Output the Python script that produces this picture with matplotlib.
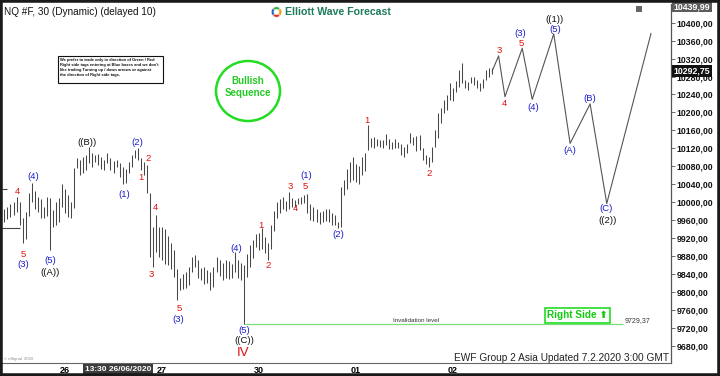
import matplotlib
matplotlib.use("Agg")
import matplotlib.pyplot as plt
from matplotlib.patches import Rectangle, Ellipse
from matplotlib.ticker import FuncFormatter

plt.rcParams["font.family"] = ["Liberation Sans", "DejaVu Sans"]

# 30 min bars, NQ #F (32 bars per day slot)
highs = [
    9985, 9990, 9995, 10000, 10012, 10000, 9965, 9978, 10020, 10043,
    10025, 10011, 10008, 9990, 10011, 10010, 9983, 10000, 10010, 10040,
    10030, 10016, 10000, 10076, 10098, 10095, 10100, 10105, 10123, 10110,
    10105, 10108, 10100, 10095, 10110, 10098, 10092, 10095, 10087, 10078,
    10075, 10089, 10105, 10116, 10121, 10098, 10089, 10083, 10020, 9944,
    9971, 9944, 9945, 9940, 9925, 9909, 9893, 9850, 9831, 9840,
    9845, 9855, 9877, 9882, 9870, 9853, 9855, 9849, 9844, 9855,
    9877, 9870, 9865, 9870, 9868, 9862, 9888, 9870, 9864, 9860,
    9885, 9905, 9915, 9928, 9932, 9942, 9922, 9909, 9950, 9980,
    10000, 10008, 10012, 10003, 10022, 10010, 10005, 10010, 10012, 10015,
    10018, 9995, 9990, 9985, 9978, 9980, 9985, 9985, 9975, 9972,
    9956, 10034, 10050, 10075, 10090, 10100, 10085, 10080, 10100, 10110,
    10172, 10143, 10145, 10140, 10139, 10138, 10152, 10140, 10135, 10140,
    10134, 10130, 10123, 10130, 10155, 10145, 10148, 10150, 10120, 10105,
    10100, 10123, 10160, 10198, 10209, 10228, 10238, 10266, 10255, 10270,
    10295, 10310, 10272, 10268, 10279, 10278, 10272, 10265, 10275, 10295,
    10298, 10300,
]
lows = [
    9955, 9962, 9968, 9972, 9978, 9950, 9909, 9918, 9970, 10000,
    9985, 9978, 9965, 9965, 9970, 9893, 9945, 9949, 9955, 9989,
    9975, 9967, 9965, 9987, 10076, 10060, 10065, 10072, 10088, 10078,
    10090, 10082, 10075, 10072, 10087, 10072, 10065, 10078, 10056, 10040,
    10043, 10065, 10078, 10098, 10095, 10072, 10060, 10020, 9877, 9855,
    9889, 9877, 9870, 9862, 9860, 9850, 9833, 9782, 9804, 9806,
    9808, 9815, 9844, 9855, 9830, 9826, 9818, 9820, 9804, 9812,
    9844, 9835, 9826, 9830, 9828, 9830, 9844, 9832, 9826, 9729.37,
    9833, 9855, 9876, 9900, 9893, 9896, 9886, 9871, 9895, 9935,
    9965, 9975, 9985, 9980, 9985, 9990, 9990, 9995, 9997, 9998,
    9975, 9960, 9958, 9955, 9952, 9955, 9958, 9955, 9948, 9949,
    9942, 9945, 10015, 10030, 10045, 10050, 10045, 10040, 10060, 10070,
    10116, 10123, 10120, 10125, 10123, 10120, 10127, 10118, 10118, 10120,
    10121, 10105, 10101, 10110, 10132, 10128, 10115, 10116, 10095, 10085,
    10078, 10089, 10123, 10143, 10176, 10198, 10205, 10228, 10225, 10245,
    10257, 10266, 10254, 10250, 10266, 10262, 10254, 10248, 10254, 10272,
    10278, 10285,
]
last_price = 10292.75
top_price = 10439.99
invalidation = 9729.37
price_ticks = list(range(9680, 10401, 40))

day_idx = [20, 52, 84, 116, 148]
day_labels = ["26", "27", "30", "01", "02"]

# projected path (bar index, price)
path_x = [161, 163.1, 165.2, 170.9, 174.2, 181.3, 186.7, 193.3, 198.8, 213.4]
path_y = [10292.75, 10326, 10235, 10343, 10229, 10375, 10131, 10219, 9997, 10376]

RED, BLUE, BLACK = "#e01010", "#1c1ccc", "#111111"
wave_labels = [
    ("4", 4.2, 10023, RED), ("(4)", 9.4, 10058, BLUE),
    ("5", 6.1, 9884, RED), ("(3)", 6.1, 9860, BLUE),
    ("(5)", 15.0, 9869, BLUE), ("((A))", 15.0, 9844, BLACK),
    ("((B))", 27.3, 10132, BLACK), ("(1)", 39.5, 10016, BLUE),
    ("(2)", 43.8, 10134, BLUE), ("1", 45.1, 10054, RED),
    ("2", 47.4, 10098, RED), ("3", 48.4, 9838, RED),
    ("4", 50.0, 9987, RED), ("5", 57.6, 9764, RED),
    ("(3)", 57.3, 9739, BLUE), ("(4)", 76.4, 9896, BLUE),
    ("(5)", 79.1, 9715, BLUE), ("((C))", 79.1, 9692, BLACK),
    ("1", 84.7, 9947, RED), ("2", 87.0, 9858, RED),
    ("3", 94.3, 10036, RED), ("4", 96.2, 9985, RED),
    ("5", 99.2, 10036, RED), ("(1)", 99.5, 10060, BLUE),
    ("(2)", 110.1, 9927, BLUE), ("1", 119.7, 10183, RED),
    ("2", 140.1, 10065, RED), ("3", 163.2, 10337, RED),
    ("4", 164.9, 10221, RED), ("(3)", 170.2, 10377, BLUE),
    ("5", 170.5, 10354, RED), ("(4)", 174.5, 10212, BLUE),
    ("((1))", 181.4, 10408, BLACK), ("(5)", 181.7, 10385, BLUE),
    ("(A)", 186.7, 10116, BLUE), ("(B)", 193.3, 10230, BLUE),
    ("(C)", 198.5, 9986, BLUE), ("((2))", 198.9, 9960, BLACK),
]

W, H = 720, 376


def fx(px):
    return px / W


def fy(py):
    return 1 - py / H


fig = plt.figure(figsize=(7.2, 3.76), dpi=100)
ax = fig.add_axes([fx(2), fy(363), fx(671) - fx(2), (363 - 4) / H])

idx = range(len(highs))
ax.vlines(idx, lows, highs, color="#474747", lw=0.75)
ax.plot(path_x, path_y, color="#555555", lw=0.8)
ax.hlines(invalidation, 79, 204.2, color="#7ddc7d", lw=0.9)
# leftover drawing stubs at the left edge
ax.hlines([10029, 9942], -0.8, [0.9, 5.1], color="#444444", lw=0.8)

for text, x, y, c in wave_labels:
    ax.text(x, y, text, color=c, fontsize=6.8, ha="center", va="center")
ax.text(78.7, 9663, "IV", color=RED, fontsize=9.5, ha="center", va="center")

ax.text(135.8, 9737, "Invalidation level", fontsize=4.5, color="#333333",
        ha="center", va="center")
ax.text(204.6, 9736, f"{invalidation:.2f}".replace(".", ","), fontsize=5,
        color="#333333", ha="left", va="center")

ax.set_xlim(-0.8, 220)
ax.set_ylim(9641.5, 10441.7)
ax.yaxis.tick_right()
ax.set_yticks(price_ticks)
ax.yaxis.set_major_formatter(FuncFormatter(lambda v, _: f"{v:.2f}".replace(".", ",")))
ax.tick_params(axis="y", length=3, width=0.6, color="#555555", pad=1,
               labelsize=6.3, labelcolor="#111111")
for lbl in ax.get_yticklabels():
    lbl.set_fontweight("bold")
ax.set_xticks(day_idx)
ax.set_xticklabels(day_labels, fontsize=6.5, fontweight="bold")
ax.tick_params(axis="x", length=0, pad=2.5)
for side in ("top", "left"):
    ax.spines[side].set_visible(False)
ax.spines["right"].set_color("#555555")
ax.spines["bottom"].set_color("#666666")
ax.spines["right"].set_linewidth(0.9)
ax.spines["bottom"].set_linewidth(0.8)

ax.text(1.004, 10436, f"{top_price:.2f}".replace(".", ","),
        transform=ax.get_yaxis_transform(), fontsize=6.3, fontweight="bold",
        color="white", ha="left", va="center", clip_on=False,
        bbox=dict(boxstyle="square,pad=0.15", fc="#5c5c5c", ec="none"))
ax.text(1.004, last_price, f"{last_price:.2f}".replace(".", ","),
        transform=ax.get_yaxis_transform(), fontsize=6.3, fontweight="bold",
        color="white", ha="left", va="center", clip_on=False,
        bbox=dict(boxstyle="square,pad=0.15", fc="#111111", ec="none"))
ax.text(37.5, -0.017, "13:30 26/06/2020", transform=ax.get_xaxis_transform(),
        fontsize=6, fontweight="bold", color="white", ha="center", va="center",
        bbox=dict(boxstyle="square,pad=0.2", fc="#3c3c3c", ec="none"))

# header
fig.text(fx(4), fy(12), "NQ #F, 30 (Dynamic) (delayed 10)", fontsize=7.2,
         color="#111111", ha="left", va="center")
fig.text(fx(285), fy(12), "Elliott Wave Forecast", fontsize=7.6, fontweight="bold",
         color="#1d7a5c", ha="left", va="center")
logo = fig.add_axes([fx(270), fy(18.5), 13 / W, 13 / H])
logo.pie([1, 1, 1, 1], colors=["#3aa845", "#1e6bb8", "#e0352b", "#f39c12"],
         startangle=45, wedgeprops=dict(width=0.5, edgecolor="white", linewidth=0.3))
logo.set_aspect("equal")
logo.axis("off")
fig.add_artist(Rectangle((fx(636), fy(12)), 6 / W, 6 / H, transform=fig.transFigure,
                         fc="#666666", ec="none"))

# notes and tags
fig.add_artist(Rectangle((fx(58), fy(83)), 105 / W, 27 / H, transform=fig.transFigure,
                         fill=False, ec="#111111", lw=0.8))
fig.text(fx(60), fy(58),
         "We prefer to trade only in direction of Green / Red\n"
         "Right side tags entering at Blue boxes and we don't\n"
         "like trading Turning up / down arrows or against\n"
         "the direction of Right side tags.",
         fontsize=2.85, fontweight="bold", color="#111111", ha="left", va="top",
         linespacing=1.35)
fig.add_artist(Ellipse((fx(248), fy(91)), 64 / W, 60 / H, transform=fig.transFigure,
                       fill=False, ec="#22dd22", lw=1.8))
fig.text(fx(248), fy(87), "Bullish\nSequence", fontsize=7, fontweight="bold",
         color="#22cc22", ha="center", va="center", linespacing=1.2)
fig.text(fx(577.5), fy(315), "Right Side \u2b06", fontsize=7.2, fontweight="bold",
         color="#11cc11", ha="center", va="center",
         bbox=dict(boxstyle="square,pad=0.25", fc="white", ec="#22dd22", lw=1.2))

# footer
fig.text(fx(669), fy(358), "EWF Group 2 Asia Updated 7.2.2020 3:00 GMT", fontsize=7.3,
         color="#222222", ha="right", va="center")
fig.text(fx(4), fy(359), "\u00a9 eSignal, 2020", fontsize=3, color="#888888",
         ha="left", va="center")

# outer frame
fig.add_artist(Rectangle((0, 0), 1, 1, transform=fig.transFigure, fill=False,
                         ec="#1a1a1a", lw=4))

fig.savefig("out.png", dpi=100)
